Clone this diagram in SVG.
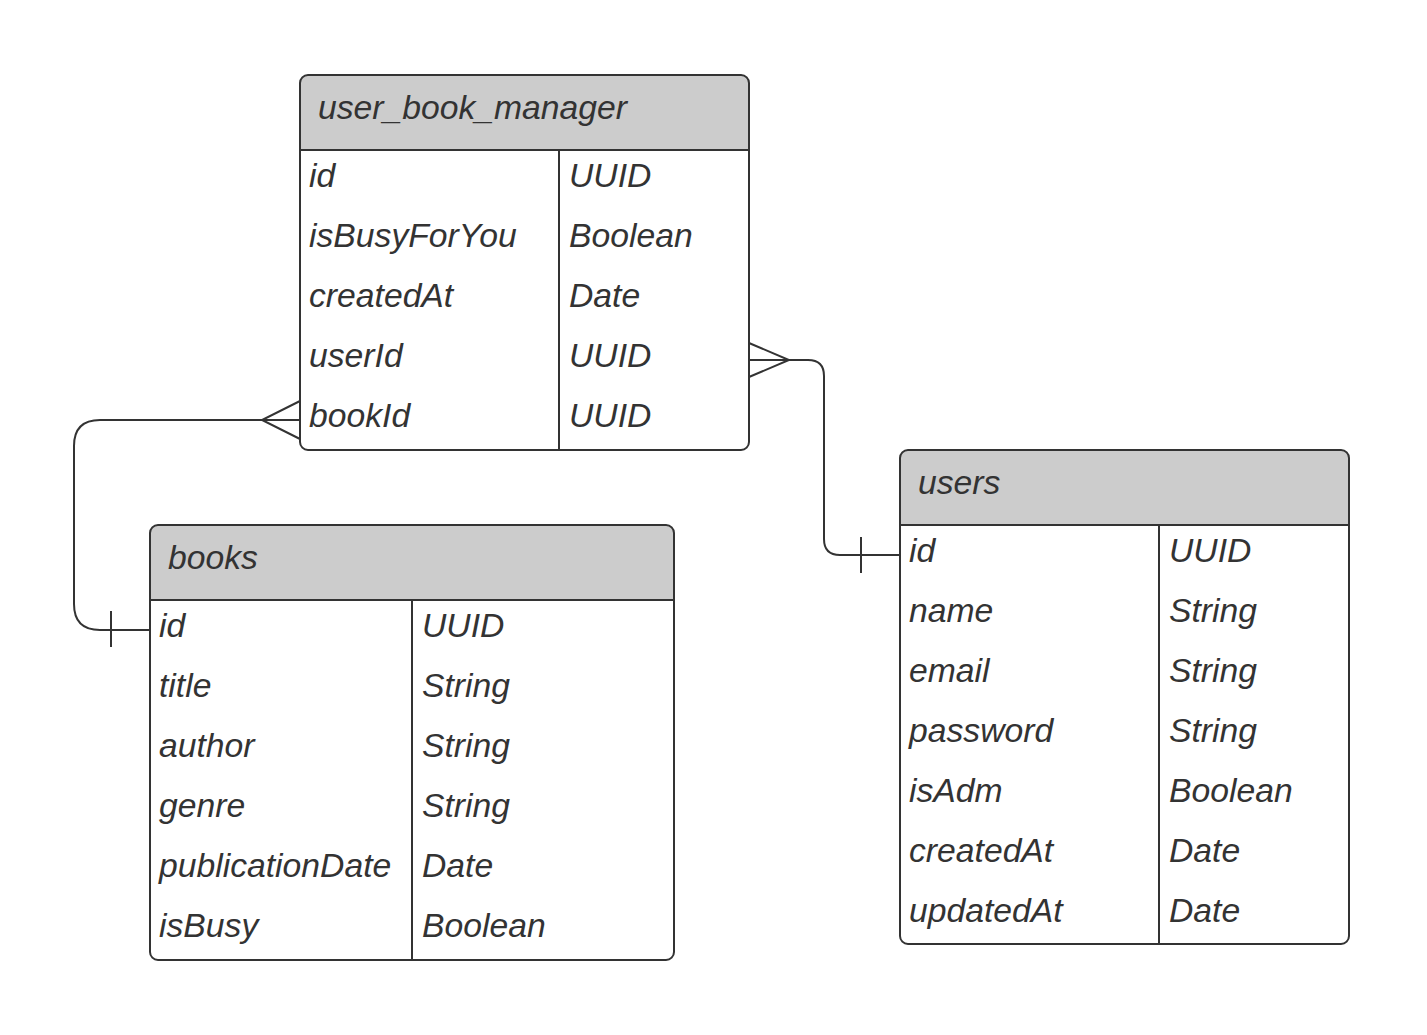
<svg xmlns="http://www.w3.org/2000/svg" width="1427" height="1035" viewBox="0 0 1427 1035">
<style>
.box{fill:none;stroke:#333333;stroke-width:2}
.hdr{fill:#cccccc}
.ln{stroke:#333333;stroke-width:2;fill:none}
text{font-family:"Liberation Sans",Arial,sans-serif;font-style:italic;font-size:33.7px;fill:#333333}
</style>
<rect width="1427" height="1035" fill="#ffffff"/>
<g id="connectors" class="ln">
<path d="M262,420 H100 Q74,420 74,446 V604 Q74,630 100,630 H150"/>
<path d="M300,401 L262,420 L300,439 M262,420 H300"/>
<path d="M111,611 V647"/>
<path d="M789,360 H808 Q824,360 824,376 V539 Q824,555 840,555 H900"/>
<path d="M749,343 L789,360 L749,377 M749,360 H789"/>
<path d="M861,537 V573"/>
</g>
<g id="user_book_manager">
<path class="hdr" d="M300,150 V83 Q300,75 308,75 H741 Q749,75 749,83 V150 Z"/>
<rect class="box" x="300" y="75" width="449" height="375" rx="8"/>
<path class="ln" d="M300,150 H749 M559,150 V450"/>
<text x="318" y="119">user_book_manager</text>
<text x="309" y="187">id</text><text x="569" y="187">UUID</text>
<text x="309" y="247">isBusyForYou</text><text x="569" y="247">Boolean</text>
<text x="309" y="307">createdAt</text><text x="569" y="307">Date</text>
<text x="309" y="367">userId</text><text x="569" y="367">UUID</text>
<text x="309" y="427">bookId</text><text x="569" y="427">UUID</text>
</g>
<g id="books">
<path class="hdr" d="M150,600 V533 Q150,525 158,525 H666 Q674,525 674,533 V600 Z"/>
<rect class="box" x="150" y="525" width="524" height="435" rx="8"/>
<path class="ln" d="M150,600 H674 M412,600 V960"/>
<text x="168" y="569">books</text>
<text x="159" y="637">id</text><text x="422" y="637">UUID</text>
<text x="159" y="697">title</text><text x="422" y="697">String</text>
<text x="159" y="757">author</text><text x="422" y="757">String</text>
<text x="159" y="817">genre</text><text x="422" y="817">String</text>
<text x="159" y="877">publicationDate</text><text x="422" y="877">Date</text>
<text x="159" y="937">isBusy</text><text x="422" y="937">Boolean</text>
</g>
<g id="users">
<path class="hdr" d="M900,525 V458 Q900,450 908,450 H1341 Q1349,450 1349,458 V525 Z"/>
<rect class="box" x="900" y="450" width="449" height="494" rx="8"/>
<path class="ln" d="M900,525 H1349 M1159,525 V944"/>
<text x="918" y="494">users</text>
<text x="909" y="562">id</text><text x="1169" y="562">UUID</text>
<text x="909" y="622">name</text><text x="1169" y="622">String</text>
<text x="909" y="682">email</text><text x="1169" y="682">String</text>
<text x="909" y="742">password</text><text x="1169" y="742">String</text>
<text x="909" y="802">isAdm</text><text x="1169" y="802">Boolean</text>
<text x="909" y="862">createdAt</text><text x="1169" y="862">Date</text>
<text x="909" y="922">updatedAt</text><text x="1169" y="922">Date</text>
</g>
</svg>
